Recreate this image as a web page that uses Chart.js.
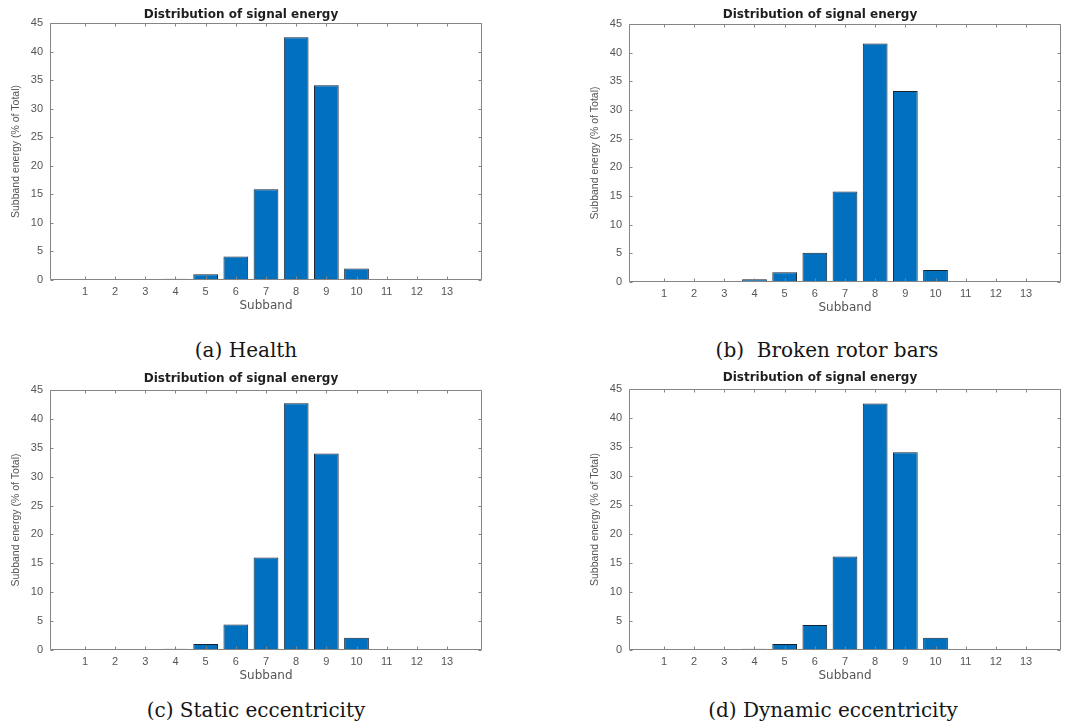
<!DOCTYPE html>
<html>
<head>
<meta charset="utf-8">
<title>Distribution of signal energy</title>
<script src="https://cdn.jsdelivr.net/npm/chart.js@4.4.1/dist/chart.umd.min.js"></script>
<style>
   html, body { margin: 0; padding: 0; background: #fff; overflow: hidden; }
   #page { position: relative; width: 1068px; height: 725px; }
   #page canvas { position: absolute; }
   .caption {
      position: absolute;
      transform: translate(-50%, -50%);
      white-space: pre;
      font-family: "DejaVu Serif", "Liberation Serif", serif;
      font-size: 20px;
      color: #151515;
   }
</style>
</head>
<body>
<div id="page">
   <canvas id="chartHealth"></canvas>
   <canvas id="chartBroken"></canvas>
   <canvas id="chartStatic"></canvas>
   <canvas id="chartDynamic"></canvas>

   <div class="caption" style="left:246px; top:350px;">(a) Health</div>
   <div class="caption" style="left:827px; top:350px;">(b)  Broken rotor bars</div>
   <div class="caption" style="left:256px; top:710px;">(c) Static eccentricity</div>
   <div class="caption" style="left:833px; top:710px;">(d) Dynamic eccentricity</div>
</div>

<script>
// Data
// ----------------------------------------------
const subbands = [1, 2, 3, 4, 5, 6, 7, 8, 9, 10, 11, 12, 13];
const yTicks   = [0, 5, 10, 15, 20, 25, 30, 35, 40, 45];

const healthEnergy  = [0, 0, 0,    0.2, 1.0,  4.1, 15.9, 42.5, 34.1, 2.0, 0, 0, 0];
const brokenEnergy  = [0, 0, 0.15, 0.5, 1.7,  5.1, 15.8, 41.6, 33.3, 2.1, 0, 0, 0];
const staticEnergy  = [0, 0, 0,    0.2, 1.05, 4.4, 16.0, 42.7, 34.0, 2.1, 0, 0, 0];
const dynamicEnergy = [0, 0, 0,    0.2, 1.05, 4.3, 16.1, 42.5, 34.1, 2.1, 0, 0, 0];

const titleText = "Distribution of signal energy";
const xTitle    = "Subband";
const yTitle    = "Subband energy (% of Total)";



// Styles
// ----------------------------------------------
const barColor   = "#0070BF";
const edgeColor  = "#18222e";
const axisColor  = "#858585";
const textColor  = "#555555";
const titleColor = "#1e1e1e";
const sansFont   = "'Liberation Sans', Arial, sans-serif";
const wideFont   = "'DejaVu Sans', Verdana, sans-serif";

const plotW    = 432;
const yAxisW   = 50;
const xAxisH   = 32;
const titleH   = 23;
const tickLen  = 3;



// Box round the axes with inward ticks, like MATLAB
// ----------------------------------------------
const axesBox = {
   id: "axesBox",
   afterDraw( chart ) {
      const { ctx, chartArea: a, scales: { x, y } } = chart;
      const l = Math.round(a.left) + 0.5, r = Math.round(a.right) - 0.5;
      const t = Math.round(a.top) + 0.5,  b = Math.round(a.bottom) - 0.5;
      ctx.save();
      ctx.strokeStyle = axisColor;
      ctx.lineWidth = 1;
      ctx.beginPath();
      ctx.rect(l, t, r - l, b - t);
      subbands.forEach( v => {
         const px = Math.round(x.getPixelForValue(v)) + 0.5;
         ctx.moveTo(px, b); ctx.lineTo(px, b - tickLen);
         ctx.moveTo(px, t); ctx.lineTo(px, t + tickLen);
      });
      yTicks.forEach( v => {
         const py = Math.round(y.getPixelForValue(v)) + 0.5;
         ctx.moveTo(l, py); ctx.lineTo(l + tickLen, py);
         ctx.moveTo(r, py); ctx.lineTo(r - tickLen, py);
      });
      ctx.stroke();
      ctx.restore();
   }
};



// One subplot
// ----------------------------------------------
const makePanel = ( id, values, left, top, plotH, titleY ) => {
   const canvas = document.getElementById(id);
   const cLeft = left - yAxisW, cTop = top - titleH;
   canvas.width  = yAxisW + plotW + 8;
   canvas.height = titleH + plotH + xAxisH;
   canvas.style.left = cLeft + "px";
   canvas.style.top  = cTop + "px";

   const padTop = titleY - cTop - 6.6;

   return new Chart( canvas, {
      type: "bar",
      data: {
         datasets: [{
            data: subbands.map( (s, i) => ({ x: s, y: values[i] }) ),
            backgroundColor: barColor,
            borderColor: edgeColor,
            borderWidth: 1,
            borderSkipped: false,
            barPercentage: 0.82,
            categoryPercentage: 1
         }]
      },
      options: {
         responsive: false,
         animation: false,
         events: [],
         layout: { padding: { left: 0, right: 8, top: 0, bottom: 0 } },
         plugins: {
            legend: { display: false },
            tooltip: { enabled: false },
            title: {
               display: true,
               text: titleText,
               color: titleColor,
               font: { family: wideFont, size: 12, weight: "bold", lineHeight: 1.1 },
               padding: { top: padTop, bottom: titleH - padTop - 13.2 }
            }
         },
         scales: {
            x: {
               type: "linear",
               min: 1 - 1.16,
               max: 13 + 1.16,
               offset: false,
               grid: { display: false, drawTicks: false, tickLength: 0 },
               border: { display: false },
               afterBuildTicks: s => { s.ticks = subbands.map( v => ({ value: v }) ); },
               afterFit: s => { s.height = xAxisH; },
               ticks: {
                  color: textColor,
                  padding: 5,
                  maxRotation: 0,
                  autoSkip: false,
                  font: { family: sansFont, size: 11 }
               },
               title: {
                  display: true,
                  text: xTitle,
                  color: textColor,
                  padding: { top: 0, bottom: -1 },
                  font: { family: wideFont, size: 12 }
               }
            },
            y: {
               min: 0,
               max: 45,
               grid: { display: false, drawTicks: false, tickLength: 0 },
               border: { display: false },
               afterBuildTicks: s => { s.ticks = yTicks.map( v => ({ value: v }) ); },
               afterFit: s => { s.width = yAxisW; },
               ticks: {
                  color: textColor,
                  padding: 7,
                  font: { family: sansFont, size: 11 }
               },
               title: {
                  display: true,
                  text: yTitle,
                  color: textColor,
                  padding: { top: 10, bottom: 0 },
                  font: { family: sansFont, size: 10.5 }
               }
            }
         }
      },
      plugins: [ axesBox ]
   });
};

makePanel( "chartHealth",  healthEnergy,  50,  23,  257, 15 );
makePanel( "chartBroken",  brokenEnergy,  629, 24,  258, 15 );
makePanel( "chartStatic",  staticEnergy,  50,  390, 260, 379 );
makePanel( "chartDynamic", dynamicEnergy, 629, 389, 261, 378 );
</script>
</body>
</html>
